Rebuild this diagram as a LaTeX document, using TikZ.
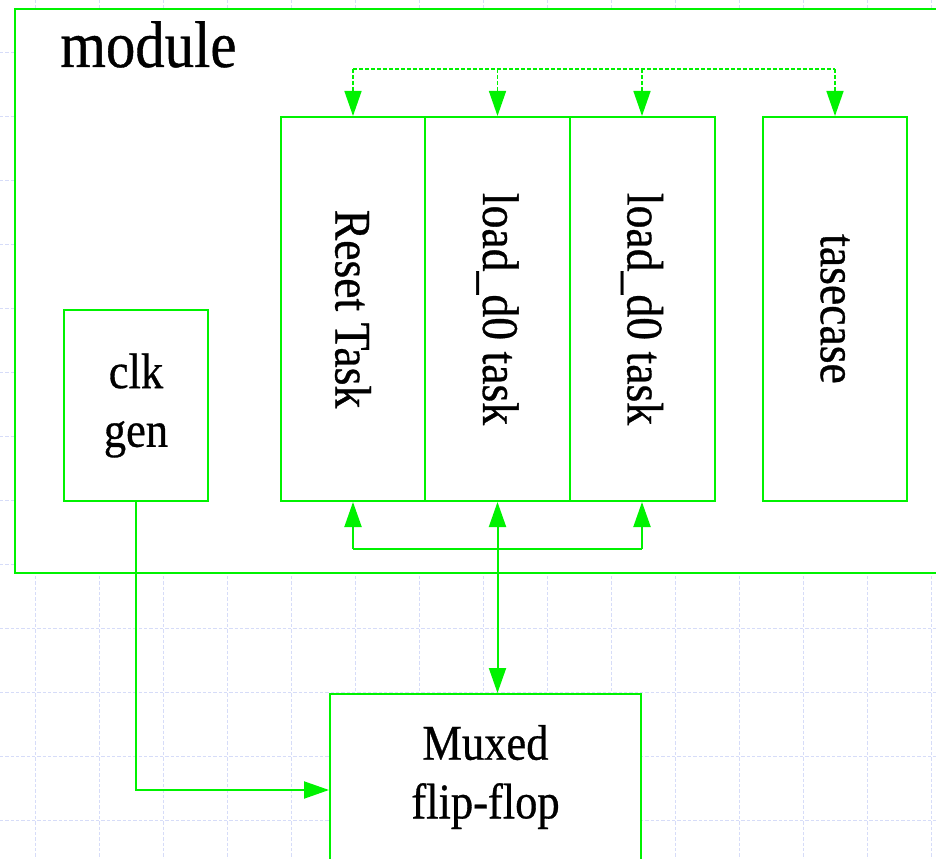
\documentclass[tikz,border=0pt]{standalone}
\usepackage{fontspec}
\setmainfont{Liberation Serif}[FakeStretch=0.89,FakeBold=0.6]
\usepackage{graphicx}
\usepackage{xcolor}
\usepackage{tikz}
\usetikzlibrary{arrows.meta,positioning}
\definecolor{wire}{HTML}{00F200}
\definecolor{gridblue}{HTML}{D6DCF8}
\tikzset{
  blockbox/.style={draw=wire,line width=1.5pt,fill=white,align=center,inner sep=0pt,
                   font=\fontsize{37.5}{44}\selectfont},
  taskbox/.style={blockbox,minimum width=108.75pt,minimum height=288pt,
                  font=\fontsize{38.5}{44}\selectfont},
  flow/.style={draw=wire,line width=1.5pt,-{Triangle[length=18.75pt,width=12.75pt]}},
  dashflow/.style={flow,line width=1.1pt,dash pattern=on 3pt off 1.5pt},
  gridline/.style={gridblue,line width=0.7pt,dash pattern=on 2.5pt off 1.5pt},
}

\begin{document}
\begin{tikzpicture}[x=0.75pt,y=-0.75pt]
\useasboundingbox (0,0) rectangle (936,859);

% --- background grid ---
\foreach \gx in {35,99,...,936}
  \draw[gridline] (\gx,0) -- (\gx,859);
\foreach \gy in {52,116,...,859}
  \draw[gridline] (0,\gy) -- (936,\gy);

% --- the module frame ---
\node[blockbox, minimum width=701.25pt, minimum height=423pt] (module) at (482.5,291) {};
\node[font=\fontsize{49.5}{55}\selectfont, anchor=base west, inner sep=0pt] (modname) at (60,67) {module};

% --- blocks inside ---
\node[blockbox, minimum width=108pt, minimum height=143.25pt] (clk) at (136,405.5) {clk\\gen};
\node[taskbox] (reset) at (353,309)   {\rotatebox{-90}{Reset Task}};
\node[taskbox] (loadA) at (497.5,309) {\rotatebox{-90}{load\_d0 task}};
\node[taskbox] (loadB) at (642,309)   {\rotatebox{-90}{load\_d0 task}};
\node[taskbox, minimum width=108pt] (tcase) at (835,309) {\rotatebox{-90}{tasecase}};

% --- outside the module ---
\node[blockbox, minimum width=233.25pt, minimum height=124.5pt] (mux) at (485.5,777) {Muxed\\flip-flop};

% --- shared bus on top ---
\coordinate (topbus) at (0,69);
\draw[dashflow,-] (reset.north |- topbus) -- (tcase.north |- topbus);
\foreach \t in {reset,loadA,loadB,tcase}
  \draw[dashflow] (\t.north |- topbus) -- (\t.north);

% --- task outputs ---
\coordinate (lowbus) at (0,549);
\draw[flow,-] (reset.south |- lowbus) -- (loadB.south |- lowbus);
\draw[flow] (reset.south |- lowbus) -- (reset.south);
\draw[flow] (loadB.south |- lowbus) -- (loadB.south);
\draw[flow,{Triangle[length=18.75pt,width=12.75pt]}-{Triangle[length=18.75pt,width=12.75pt]}]
  (loadA.south) -- (loadA.south |- mux.north);

% --- clock ---
\draw[flow] (clk.south) |- ([yshift=-9.75pt]mux.west);

\end{tikzpicture}
\end{document}
